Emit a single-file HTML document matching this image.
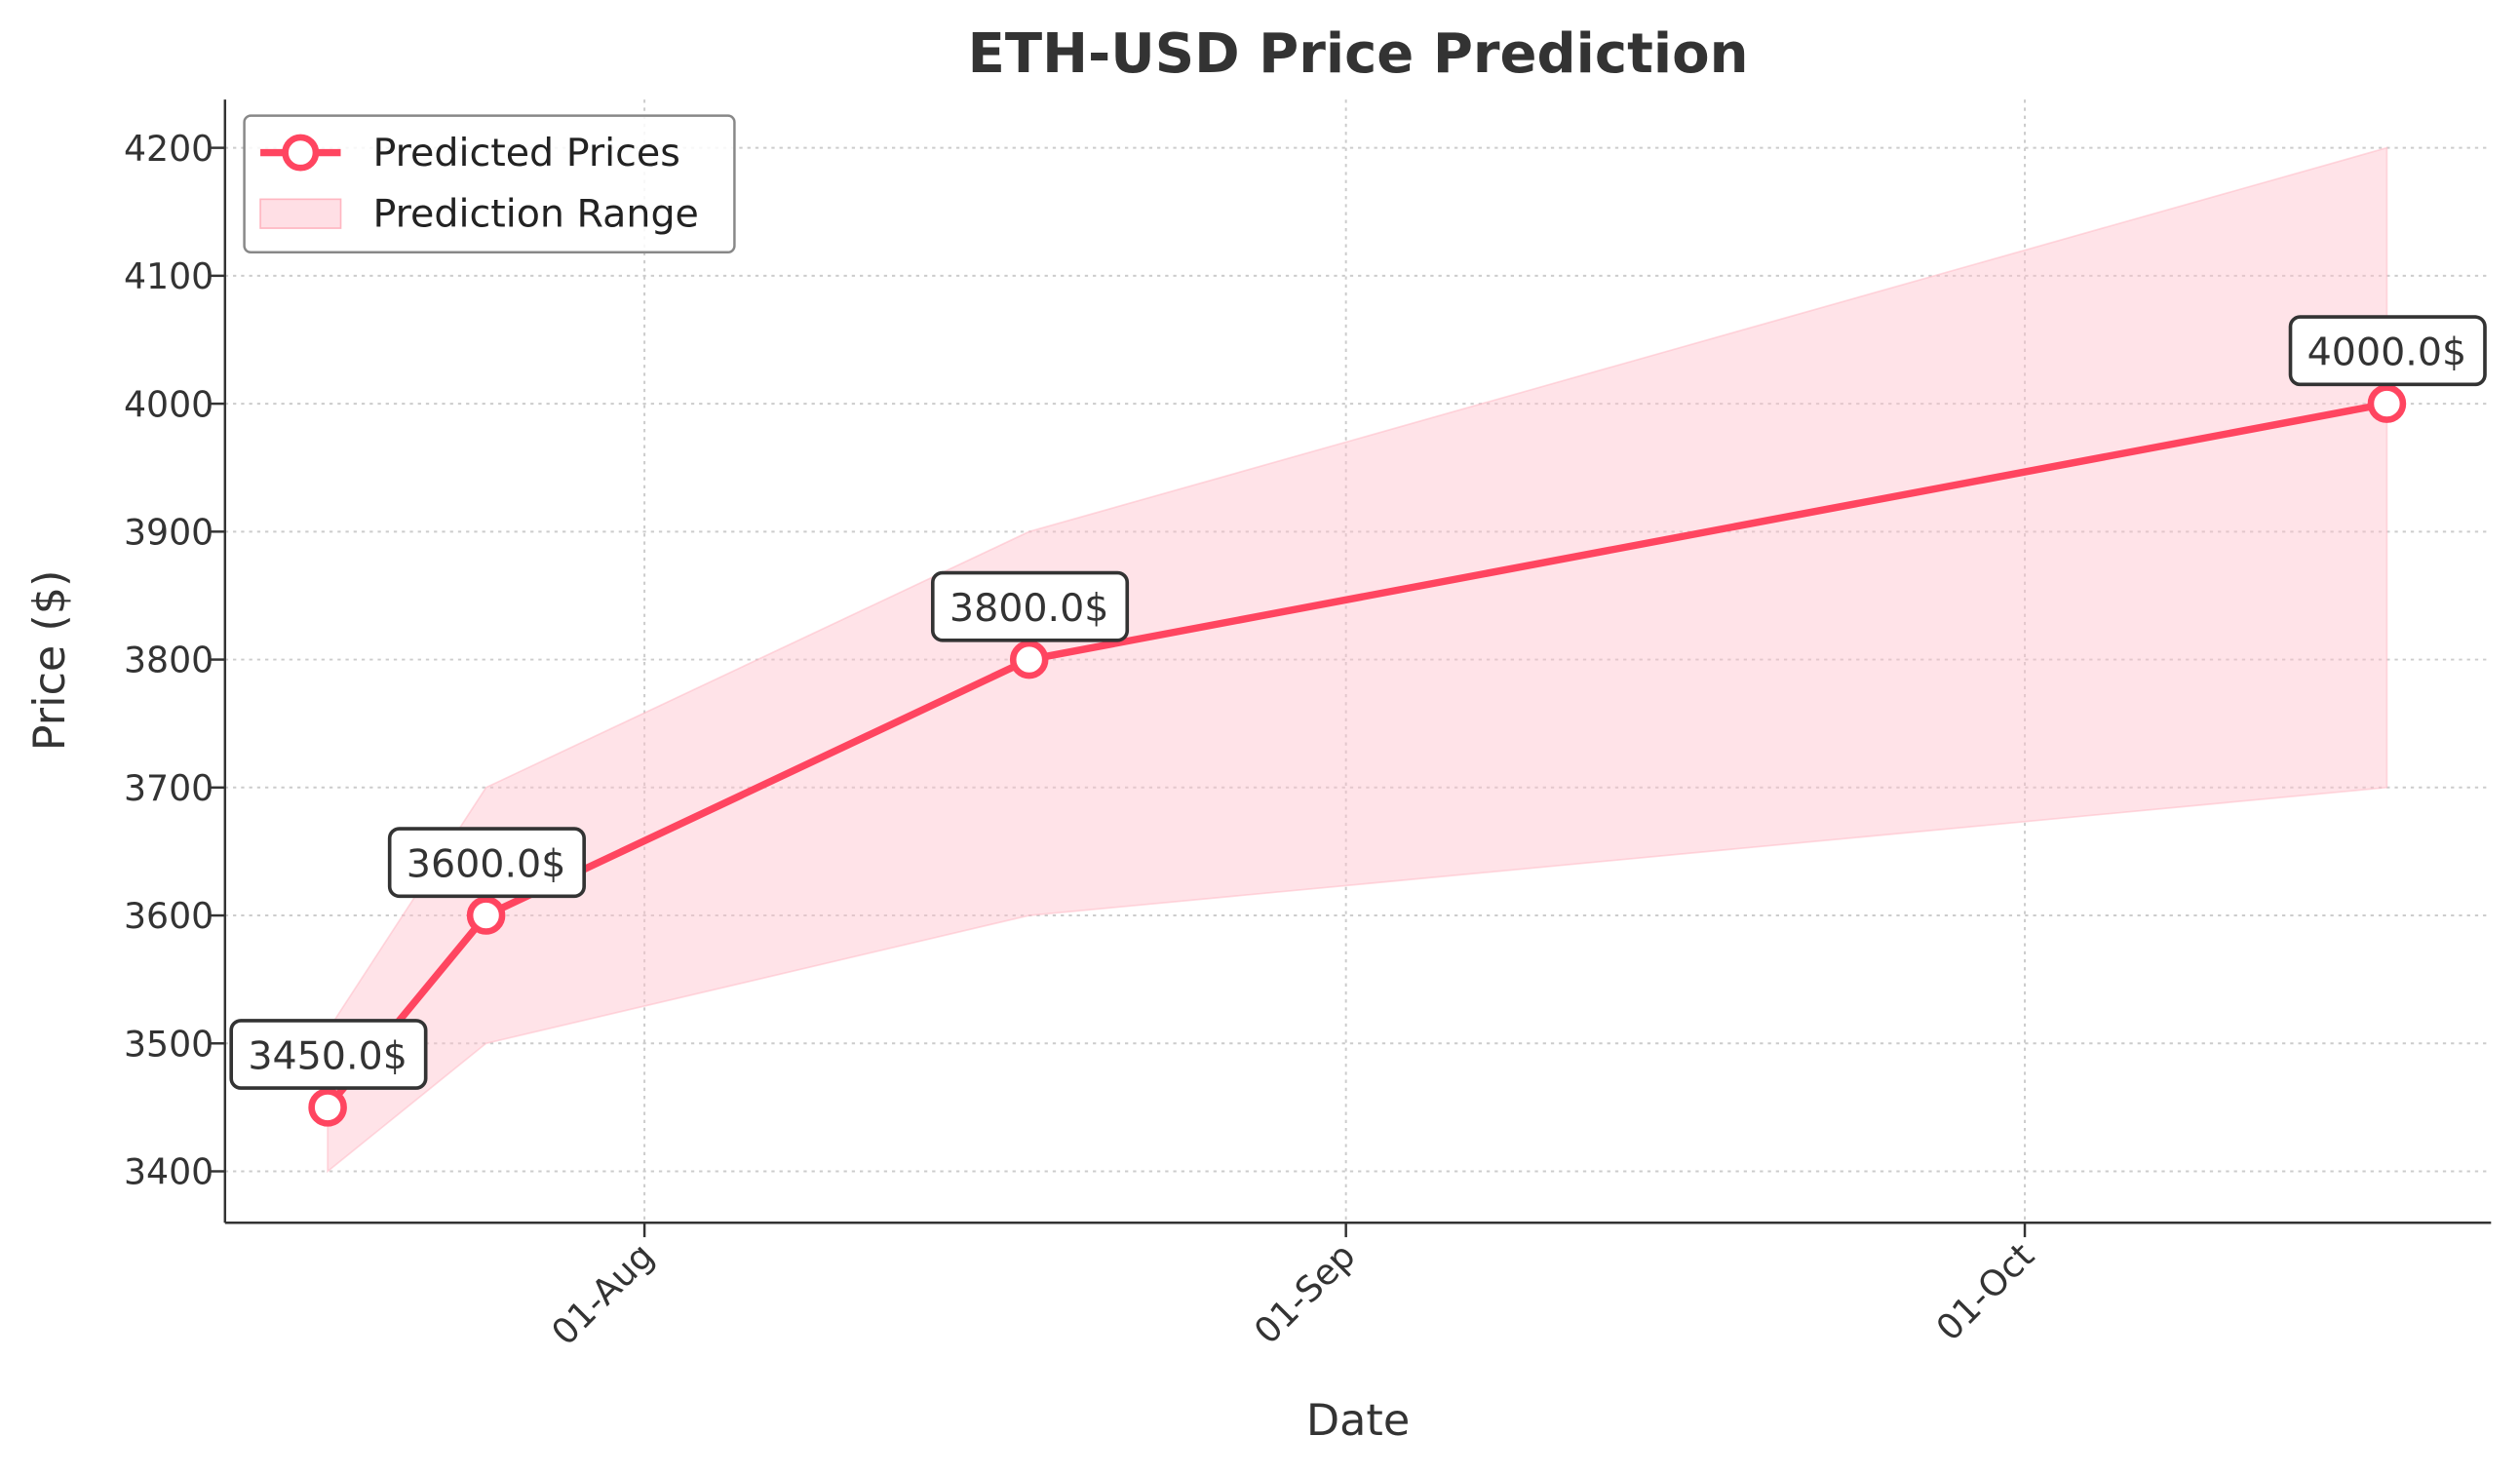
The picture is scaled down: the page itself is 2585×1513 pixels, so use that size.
<!DOCTYPE html>
<html><head><meta charset="utf-8"><style>
html,body{margin:0;padding:0;background:#fff;}
svg{display:block;font-family:"DejaVu Sans","Liberation Sans",sans-serif;}
</style></head><body>
<svg id="chart" width="2585" height="1513" viewBox="0 0 1568 918" preserveAspectRatio="none" xmlns="http://www.w3.org/2000/svg">
<rect width="1568" height="918" fill="#fff"/>
<g id="grid"></g>
<g id="band"></g>
<g id="line"></g>
<g id="axes"></g>
<text x="845" y="45" text-anchor="middle" font-size="34" font-weight="bold" fill="#333">ETH-USD Price Prediction</text>
<text x="845" y="893" text-anchor="middle" font-size="27" fill="#333">Date</text>
<text transform="translate(40,411) rotate(-90)" text-anchor="middle" font-size="27" fill="#333">Price ($)</text>
<g>
<rect x="152" y="72" width="305" height="85" rx="4" fill="#fff" fill-opacity="0.85" stroke="#888" stroke-width="1.5"/>
<g>
<line x1="162" y1="95" x2="212" y2="95" stroke="#ff4560" stroke-width="4.5"/>
<circle cx="187" cy="95" r="9.5" fill="#fff" stroke="#ff4560" stroke-width="4"/>
<text x="232" y="103" font-size="24" fill="#222">Predicted Prices</text></g>
<g>
<rect x="162" y="124" width="50" height="18" fill="#ffc0cb" fill-opacity="0.5" stroke="#ffb6c1"/>
<text x="232" y="141" font-size="24" fill="#222">Prediction Range</text></g>
</g>
</svg>
<script>
const dates=["2024-07-18","2024-07-25","2024-08-18","2024-10-17"];
const predicted=[3450,3600,3800,4000];
const lower=[3400,3500,3600,3700];
const upper=[3510,3700,3900,4200];
const yTicks=[3400,3500,3600,3700,3800,3900,4000,4100,4200];
const xTickDates=["2024-08-01","2024-09-01","2024-10-01"];
const xTickLabels=["01-Aug","01-Sep","01-Oct"];
const NS="http://www.w3.org/2000/svg";
const L=140,R=1550,T=62,B=761;
const d0=Date.parse("2024-08-01");
function xs(d){return 401+(Date.parse(d)-d0)/86400000*14.08;}
function ys(v){return 729-(v-3400)*(637/800);}
function mk(tag,attrs,parent,name,txt){const e=document.createElementNS(NS,tag);for(const k in attrs)e.setAttribute(k,attrs[k]);


if(txt!==undefined)e.textContent=txt;document.getElementById(parent).appendChild(e);return e;}
yTicks.forEach(v=>{const y=ys(v);
mk('line',{x1:L,x2:R,y1:y,y2:y,stroke:'#ccc','stroke-dasharray':'2,3','stroke-width':1.2},'grid','y-gridline');
mk('line',{x1:L-9,x2:L,y1:y,y2:y,stroke:'#333','stroke-width':1.5},'axes','y-tick');
mk('text',{x:L-7,y:y+8,'text-anchor':'end','font-size':22,fill:'#333'},'axes','y-tick-label',String(v));});
xTickDates.forEach((d,i)=>{const x=xs(d);
mk('line',{x1:x,x2:x,y1:T,y2:B,stroke:'#ccc','stroke-dasharray':'2,3','stroke-width':1.2},'grid','x-gridline');
mk('line',{x1:x,x2:x,y1:B,y2:B+9,stroke:'#333','stroke-width':1.5},'axes','x-tick');
mk('text',{x:x+7,y:B+22,'text-anchor':'end','font-size':22,fill:'#333',transform:`rotate(-45 ${x+7} ${B+22})`},'axes','x-tick-label',xTickLabels[i]);});
mk('line',{x1:L,x2:L,y1:T,y2:B,stroke:'#333','stroke-width':1.5},'axes','y-axis-line');
mk('line',{x1:L,x2:R,y1:B,y2:B,stroke:'#333','stroke-width':1.5},'axes','x-axis-line');
let p=dates.map((d,i)=>xs(d)+','+ys(upper[i])).join(' ')+' '+dates.slice().reverse().map((d,j)=>{const i=dates.length-1-j;return xs(d)+','+ys(lower[i]);}).join(' ');
mk('polygon',{points:p,fill:'#ffc0cb','fill-opacity':0.45,stroke:'#ffb6c1','stroke-opacity':0.5},'band','range-area');
mk('polyline',{points:dates.map((d,i)=>xs(d)+','+ys(predicted[i])).join(' '),fill:'none',stroke:'#ff4560','stroke-width':4.5},'line','predicted-polyline');
dates.forEach((d,i)=>{const x=xs(d),y=ys(predicted[i]);
mk('circle',{cx:x,cy:y,r:10,fill:'#fff',stroke:'#ff4560','stroke-width':4},'line','point-marker');
const lbl=predicted[i].toFixed(1)+'$';
mk('rect',{x:x-60,y:y-54,width:121,height:42,rx:6,fill:'#fff',stroke:'#333','stroke-width':2.2},'line','value-label-box');
mk('text',{x:x,y:y-24,'text-anchor':'middle','font-size':24,fill:'#333'},'line','value-label',lbl);});
</script>
</body></html>
